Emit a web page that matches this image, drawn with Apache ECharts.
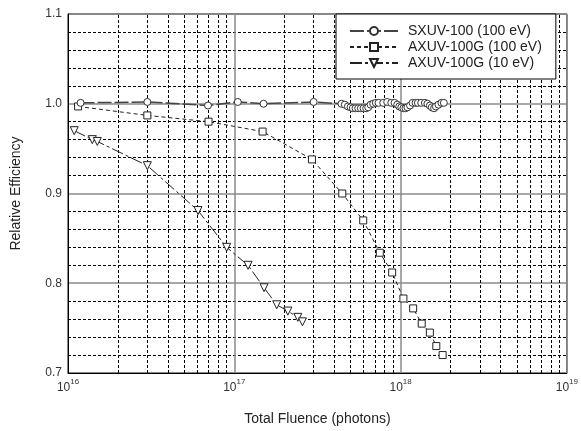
<!DOCTYPE html>
<html><head><meta charset="utf-8">
<script src="https://cdn.jsdelivr.net/npm/echarts@6/dist/echarts.min.js"></script>
<style>html,body{margin:0;padding:0;background:#fff;}#c{width:581px;height:431px;}</style>
</head><body><div id="c"></div>
<script>
// ---- data ----
var seriesNames = ['SXUV-100 (100 eV)', 'AXUV-100G (100 eV)', 'AXUV-100G (10 eV)'];
var sxuvX = [1.19e16, 3.0e16, 6.95e16, 1.05e17, 1.5e17, 3.0e17,
  4.41e17, 4.62e17, 4.82e17, 5.00e17, 5.16e17, 5.36e17, 5.56e17, 5.77e17, 5.99e17, 6.21e17,
  6.39e17, 6.60e17, 6.84e17, 7.10e17, 7.37e17, 7.86e17, 8.31e17, 8.79e17, 9.20e17, 9.55e17,
  9.82e17, 1.01e18, 1.04e18, 1.07e18, 1.10e18, 1.14e18, 1.18e18, 1.23e18, 1.27e18, 1.33e18,
  1.40e18, 1.45e18, 1.50e18, 1.54e18, 1.59e18, 1.63e18, 1.69e18, 1.76e18, 1.82e18];
var sxuvY = [1.001, 1.002, 0.998, 1.002, 1.000, 1.002,
  1.000, 0.999, 0.997, 0.996, 0.995, 0.995, 0.995, 0.995, 0.995, 0.995,
  0.996, 0.999, 1.000, 1.001, 1.001, 1.001, 1.002, 1.001, 1.001, 0.999,
  0.997, 0.996, 0.995, 0.995, 0.996, 0.998, 1.001, 1.001, 1.001, 1.001,
  1.001, 1.000, 0.998, 0.996, 0.995, 0.997, 0.999, 1.001, 1.001];
var axuv100X = [1.15e16, 3.0e16, 7.0e16, 1.48e17, 2.93e17, 4.46e17, 5.96e17, 7.5e17, 8.9e17,
  1.04e18, 1.19e18, 1.34e18, 1.5e18, 1.64e18, 1.79e18];
var axuv100Y = [0.997, 0.987, 0.980, 0.969, 0.938, 0.900, 0.870, 0.834, 0.812,
  0.783, 0.772, 0.755, 0.745, 0.730, 0.720];
var axuv10X = [1.09e16, 1.4e16, 1.5e16, 3.0e16, 6.05e16, 9.0e16, 1.21e17, 1.51e17, 1.8e17,
  2.1e17, 2.41e17, 2.57e17];
var axuv10Y = [0.970, 0.960, 0.958, 0.931, 0.881, 0.840, 0.820, 0.795, 0.776,
  0.769, 0.762, 0.757];
var xTickExponents = [16, 17, 18, 19];
var yTickLabels = ['0.7', '0.8', '0.9', '1.0', '1.1'];
var xAxisTitle = 'Total Fluence (photons)';
var yAxisTitle = 'Relative Efficiency';

function pairs(xs, ys) { return xs.map(function (x, i) { return [x, ys[i]]; }); }

// minor log gridlines (2..9 within each decade)
var minorX = [];
for (var e = 16; e < 19; e++) { for (var m = 2; m <= 9; m++) { minorX.push({ xAxis: m * Math.pow(10, e) }); } }

var chart = echarts.init(document.getElementById('c'), null, { renderer: 'canvas' });
var font = '"Liberation Sans", Arial, sans-serif';
chart.setOption({
  animation: false,
  backgroundColor: '#fff',
  textStyle: { fontFamily: font },
  grid: { left: 68, right: 11, top: 14, bottom: 56, show: true, borderColor: '#000', borderWidth: 1, backgroundColor: 'transparent' },
  legend: {
    data: seriesNames,
    orient: 'vertical',
    left: 336, top: 14,
    backgroundColor: '#fff',
    borderColor: '#000', borderWidth: 1,
    padding: [10, 14, 9, 13],
    itemGap: 2,
    itemWidth: 48, itemHeight: 10,
    textStyle: { fontSize: 14, color: '#222', fontFamily: font, padding: [0, 0, 0, 5] }
  },
  xAxis: {
    type: 'log', logBase: 10, min: 1e16, max: 1e19,
    name: xAxisTitle, nameLocation: 'middle', nameGap: 39,
    nameTextStyle: { fontSize: 14, color: '#222' },
    axisLine: { lineStyle: { color: '#000', width: 1 } },
    axisTick: { show: false },
    splitLine: { show: true, lineStyle: { color: '#8a8a8a', width: 1.5 } },
    axisLabel: {
      margin: 5, color: '#333',
      formatter: function (v) {
        var ex = Math.round(Math.log10(v));
        if (xTickExponents.indexOf(ex) < 0) return '';
        return '{b|10}{s|' + ex + '}';
      },
      rich: { b: { fontSize: 12, color: '#333', padding: [4, 0, 0, 0] }, s: { fontSize: 8, color: '#333', verticalAlign: 'top' } }
    }
  },
  yAxis: {
    type: 'value', min: 0.7, max: 1.1, interval: 0.1,
    name: yAxisTitle, nameLocation: 'middle', nameGap: 45,
    nameTextStyle: { fontSize: 14, color: '#222' },
    axisLine: { show: true, lineStyle: { color: '#000', width: 1 } },
    axisTick: { show: false },
    axisLabel: {
      color: '#333', fontSize: 12, margin: 6,
      formatter: function (v) { var i = Math.round((v - 0.7) / 0.1); return yTickLabels[i] || ''; }
    },
    splitLine: { show: true, lineStyle: { color: '#8a8a8a', width: 1.5 } },
    minorTick: { show: false, splitNumber: 5 },
    minorSplitLine: { show: true, lineStyle: { color: '#000', width: 1, type: [3, 2] } }
  },
  series: [
    {
      name: seriesNames[0], type: 'line', data: pairs(sxuvX, sxuvY),
      symbol: 'circle', symbolSize: 7,
      itemStyle: { color: '#fff', borderColor: '#333', borderWidth: 1 },
      lineStyle: { color: '#444', width: 1.5, type: [14, 3] },
      z: 5,
      markLine: {
        silent: true, symbol: 'none', label: { show: false },
        lineStyle: { color: '#000', width: 1, type: [3, 2] },
        data: minorX, z: 1
      }
    },
    {
      name: seriesNames[1], type: 'line', data: pairs(axuv100X, axuv100Y),
      symbol: 'rect', symbolSize: 7,
      itemStyle: { color: '#fff', borderColor: '#222', borderWidth: 1 },
      lineStyle: { color: '#222', width: 1, type: [4, 3] },
      z: 4
    },
    {
      name: seriesNames[2], type: 'line', data: pairs(axuv10X, axuv10Y),
      symbol: 'triangle', symbolRotate: 180, symbolSize: 8,
      itemStyle: { color: '#fff', borderColor: '#222', borderWidth: 1 },
      lineStyle: { color: '#222', width: 1, type: [12, 3, 3, 3] },
      z: 4
    }
  ]
});
</script></body></html>
